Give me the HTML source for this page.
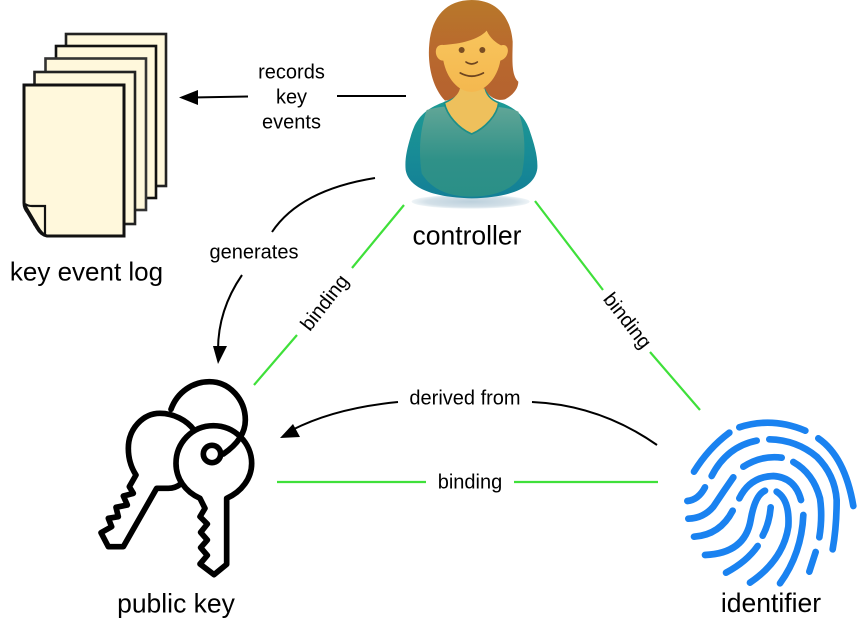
<!DOCTYPE html>
<html><head><meta charset="utf-8"><style>
html,body{margin:0;padding:0;background:#fff}
svg{display:block}
text{font-family:"Liberation Sans",sans-serif;fill:#000;text-anchor:middle}
.s{font-size:20px}.b{font-size:26.500px}
</style></head><body>
<svg width="864" height="630" viewBox="0 0 864 630" xmlns="http://www.w3.org/2000/svg">
<defs>
<linearGradient id="hair" x1="0" y1="0" x2="0" y2="1"><stop offset="0" stop-color="#b8782a"/><stop offset=".5" stop-color="#b9692e"/><stop offset="1" stop-color="#b5622f"/></linearGradient>
<linearGradient id="face" x1="0" y1="0" x2="0" y2="1"><stop offset="0" stop-color="#f8c45c"/><stop offset="1" stop-color="#f4b84f"/></linearGradient>
<linearGradient id="shirt" x1="0" y1="0" x2="0" y2="1"><stop offset="0" stop-color="#1d9a94"/><stop offset="1" stop-color="#137f97"/></linearGradient>
<linearGradient id="shirt2" x1="0" y1="0" x2="0" y2="1"><stop offset="0" stop-color="#62a697"/><stop offset=".6" stop-color="#2f9188"/><stop offset="1" stop-color="#2a8f87"/></linearGradient>
<radialGradient id="shadow"><stop offset="0" stop-color="#bcd0dc"/><stop offset=".75" stop-color="#d3e0e8"/><stop offset="1" stop-color="#eef4f7"/></radialGradient>
</defs>

<!-- pages -->
<g fill="#fff8dc" stroke="#111" stroke-width="2.6">
<rect x="66" y="34" width="100" height="152" stroke="#222"/>
<rect x="56" y="46" width="100" height="152"/>
<rect x="45.500" y="58.500" width="100.500" height="151.500" stroke="#333"/>
<rect x="34.500" y="72" width="100.500" height="152" stroke="#222"/>
<path d="M24 85H124V236H47Q41 235 37 228L28 213Q24 208 24 203Z" stroke-width="3"/>
<path d="M25 204Q28 206 32 206H45V235" fill="#fff8dc" stroke-width="2.200"/>
<path d="M25 205L38 227Q42 234 47 236" fill="none" stroke-width="2.200"/>
</g>

<!-- person -->
<g transform="translate(390,0) scale(.33333)">
<ellipse cx="242" cy="605" rx="177" ry="21" fill="url(#shadow)"/>
<path d="M165 305C110 325 78 350 62 410C50 450 44 480 47 510C55 560 120 592 245 595C370 592 435 560 442 505C444 470 432 430 420 395C405 345 370 320 325 305Z" fill="url(#shirt)"/>
<path d="M110 330C170 310 330 310 385 335C410 400 405 480 395 525C370 570 310 590 245 590C180 590 125 570 95 520C85 450 90 390 110 330Z" fill="url(#shirt2)"/>
<path d="M205 260H285C288 285 305 300 326 308C322 345 285 385 245 402C205 385 170 345 163 308C185 300 202 285 205 260Z" fill="#eec05c" stroke="#1d8f88" stroke-width="5" stroke-linejoin="round"/>
<path d="M245 0C170 0 125 50 118 130C112 190 125 260 165 302C190 298 205 285 210 265H285C295 290 320 305 345 298C370 285 385 265 385 245C362 225 368 170 368 125C362 50 320 0 245 0Z" fill="url(#hair)"/>
<path d="M160 135C210 132 265 120 290 92C300 115 320 130 333 136C352 130 360 150 348 170C342 178 336 180 331 182C322 235 285 275 245 276C205 276 170 235 160 182C145 182 135 165 138 150C140 138 150 133 160 135Z" fill="url(#face)"/>
<circle cx="215" cy="150" r="9" fill="#7a4d22"/>
<circle cx="277" cy="150" r="9" fill="#7a4d22"/>
<path d="M228 186Q245 198 262 186" fill="none" stroke="#6e4520" stroke-width="5" stroke-linecap="round"/>
<path d="M211 219Q245 238 280 219" fill="none" stroke="#6e4520" stroke-width="5.500" stroke-linecap="round"/>
</g>

<!-- keys -->
<g transform="translate(90,370) scale(.33333)" fill="none" stroke="#000" stroke-width="17" stroke-linejoin="round" stroke-linecap="round">
<path d="M243 118C262 65 310 35 358 35C420 35 466 90 466 150C466 195 435 228 400 252"/>
<circle cx="366" cy="252" r="26"/>
<path d="M330 385C285 365 258 325 258 280C258 220 305 167 370 167C435 167 485 220 485 280C485 325 455 365 410 385V583L372 614L330 582L352 556L332 533L352 510L332 487L352 462L330 440L345 415Z"/>
<path d="M312 180C290 150 250 130 210 130C160 130 115 175 115 235C115 270 125 295 138 315L118 350L130 370L100 378L112 405L78 412L85 440L55 445L65 470L33 488L55 530H100L200 355H235C250 355 262 350 272 342"/>
</g>

<!-- fingerprint -->
<g transform="translate(680,420) scale(.33333)" fill="none" stroke="#1a82f0" stroke-width="20" stroke-linecap="round" stroke-linejoin="round">
<path d="M178 22Q275 -10 376 32"/>
<path d="M148 38Q85 85 42 155"/>
<path d="M230 62Q140 80 95 168"/>
<path d="M268 58Q350 60 410 110Q465 165 470 240Q470 320 458 388"/>
<path d="M415 55Q495 110 520 258"/>
<path d="M305 113Q245 105 190 140"/>
<path d="M340 126Q400 160 420 235Q428 290 418 352"/>
<path d="M160 172Q130 215 100 260Q70 295 25 296"/>
<path d="M75 202Q55 240 22 243"/>
<path d="M178 235Q210 170 280 168Q345 172 363 240"/>
<path d="M158 272Q120 345 42 350"/>
<path d="M255 212Q225 225 212 300Q195 400 75 405"/>
<path d="M290 215Q330 240 325 320Q310 420 210 488"/>
<path d="M272 262Q268 310 248 347"/>
<path d="M233 378Q200 425 138 458"/>
<path d="M370 285Q365 400 300 490"/>
<path d="M407 396L388 455"/>
</g>

<!-- green connectors -->
<g stroke="#3fe03a" stroke-width="2.200" fill="none">
<path d="M404 205L352 268M297 335L254 385"/>
<path d="M535 201L603 290M650 352L700 410"/>
<path d="M277 482H426M514 482H658"/>
</g>

<!-- black connectors -->
<g stroke="#000" stroke-width="2" fill="none">
<path d="M406 96H337"/>
<path d="M248 96.500L192 97.500"/>
<path d="M375 178Q300 190 272 232"/>
<path d="M242 275Q218 310 218 350"/>
<path d="M657 445Q600 405 532 402"/>
<path d="M398 402Q335 408 292 430"/>
</g>
<g fill="#000">
<path d="M179 97.500L198 90V105Z"/>
<path d="M218 364L213 346H227Z"/>
<path d="M280 438L293 424L300 437Z"/>
</g>

<!-- labels -->
<text class="s" x="291.500" y="78.500">records</text>
<text class="s" x="291.500" y="103.500">key</text>
<text class="s" x="291.500" y="128.500">events</text>
<text class="s" x="254" y="258.500">generates</text>
<text class="s" x="465" y="404.500">derived from</text>
<text class="s" x="470" y="488.500">binding</text>
<text class="s" transform="translate(325,303) rotate(-52)" y="6">binding</text>
<text class="s" transform="translate(627,321) rotate(52)" y="6">binding</text>
<text class="b" x="86.500" y="280.500" style="font-size:26px">key event log</text>
<text class="b" x="467" y="244.500">controller</text>
<text class="b" x="176" y="612.500">public key</text>
<text class="b" x="771" y="612">identifier</text>
</svg>
</body></html>
